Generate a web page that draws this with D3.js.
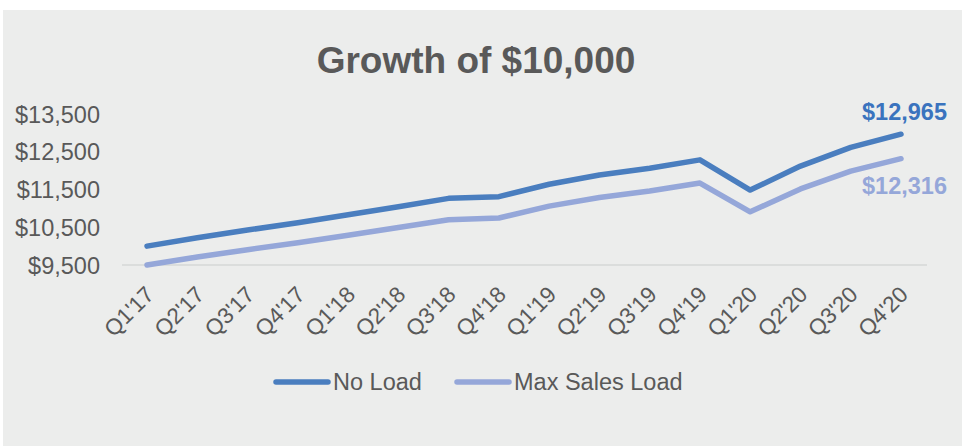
<!DOCTYPE html>
<html><head><meta charset="utf-8">
<script src="https://cdn.jsdelivr.net/npm/d3@7"></script>
<style>body{margin:0;background:#fff}svg{display:block;font-family:"Liberation Sans",Arial,sans-serif}</style>
</head><body><svg id="c" width="962" height="446"></svg>
<script>
const categories = ["Q1'17","Q2'17","Q3'17","Q4'17","Q1'18","Q2'18","Q3'18","Q4'18","Q1'19","Q2'19","Q3'19","Q4'19","Q1'20","Q2'20","Q3'20","Q4'20"];
const noLoad = [10000,10220,10425,10620,10830,11045,11265,11310,11640,11885,12065,12285,11485,12120,12615,12965];
const maxSalesLoad = [9500,9710,9905,10090,10290,10495,10700,10745,11060,11290,11460,11670,10910,11515,11985,12316];
const yTicks = [9500,10500,11500,12500,13500];
const seriesNames = ["No Load","Max Sales Load"];
const colors = ["#4A7EBF","#95A7D9"];
const labelColors = ["#3A73BE","#95A7D9"];

const svg = d3.select("#c");
svg.append("rect").attr("x",3).attr("y",10).attr("width",959).attr("height",436).attr("fill","#ECEDEC");

svg.append("text").attr("x",476).attr("y",73).attr("text-anchor","middle")
  .attr("font-size",37).attr("font-weight","bold").attr("fill","#595959").text("Growth of $10,000");

const x = d3.scalePoint().domain(categories).range([147,901]);
const y = d3.scaleLinear().domain([9500,13500]).range([265,114]);

// baseline
svg.append("line").attr("x1",122).attr("x2",927).attr("y1",y(9500)).attr("y2",y(9500))
  .attr("stroke","#D6D7D7").attr("stroke-width",1.5);

// y axis
const yAxis = svg.append("g").attr("transform","translate(100,0)")
  .call(d3.axisLeft(y).tickValues(yTicks).tickSize(0).tickPadding(0).tickFormat(d=>"$"+d3.format(",")(d)));
yAxis.select(".domain").remove();
yAxis.selectAll("text").attr("font-size",23.5).attr("fill","#595959").attr("font-family","Liberation Sans, Arial, sans-serif").attr("dy","0.35em");

// x axis
const xAxis = svg.append("g").attr("transform","translate(0,"+y(9500)+")")
  .call(d3.axisBottom(x).tickSize(0).tickPadding(0));
xAxis.select(".domain").remove();
xAxis.selectAll("text").attr("font-size",22.5).attr("fill","#595959").attr("font-family","Liberation Sans, Arial, sans-serif")
  .attr("text-anchor","end").attr("y",null)
  .attr("transform","translate(-4,19) rotate(-45)").attr("dy","0.75em");

// lines
const line = d3.line().x((d,i)=>x(categories[i])).y(d=>y(d));
[noLoad,maxSalesLoad].forEach((s,k)=>{
  svg.append("path").datum(s).attr("d",line).attr("fill","none")
    .attr("stroke",colors[k]).attr("stroke-width",5.5).attr("stroke-linecap","round").attr("stroke-linejoin","round");
});

// end labels
const last = categories.length-1;
svg.append("text").attr("x",947).attr("y",y(noLoad[last])-14).attr("text-anchor","end")
  .attr("font-size",23.5).attr("font-weight","bold").attr("fill",labelColors[0]).text("$"+d3.format(",")(noLoad[last]));
svg.append("text").attr("x",947).attr("y",y(maxSalesLoad[last])+35).attr("text-anchor","end")
  .attr("font-size",23.5).attr("font-weight","bold").attr("fill",labelColors[1]).text("$"+d3.format(",")(maxSalesLoad[last]));

// legend
const lg = [{x:274,name:seriesNames[0],c:colors[0]},{x:455,name:seriesNames[1],c:colors[1]}];
lg.forEach(l=>{
  svg.append("line").attr("x1",l.x+2).attr("x2",l.x+54).attr("y1",382).attr("y2",382)
    .attr("stroke",l.c).attr("stroke-width",5.5).attr("stroke-linecap","round");
  svg.append("text").attr("x",l.x+59).attr("y",390).attr("font-size",23.5).attr("fill","#595959").text(l.name);
});
</script></body></html>
